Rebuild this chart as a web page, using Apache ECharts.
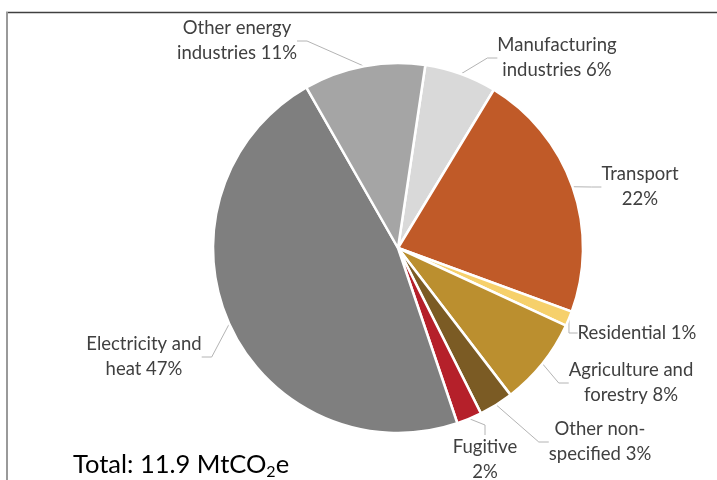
<!DOCTYPE html>
<html>
<head>
<meta charset="utf-8">
<script src="https://cdn.jsdelivr.net/npm/echarts@6/dist/echarts.min.js"></script>
<style>
html,body{margin:0;padding:0;background:#fff;}
#chart{width:717px;height:480px;}
</style>
</head>
<body>
<div id="chart"></div>
<script>
// ---- data ----
const categories = ["Manufacturing industries", "Transport", "Residential", "Agriculture and forestry", "Other non-specified", "Fugitive", "Electricity and heat", "Other energy industries"];
const values = [6.3, 21.9, 1.3, 7.7, 3.0, 2.2, 46.9, 10.6];
const labelTemplates = ["Manufacturing\nindustries {p}%", "Transport\n{p}%", "Residential {p}%", "Agriculture and\nforestry {p}%", "Other non-\nspecified {p}%", "Fugitive\n{p}%", "Electricity and\nheat {p}%", "Other energy\nindustries {p}%"];
const totalText = "Total: 11.9 MtCO{sub|2}e";

// ---- styles / layout ----
const colors = ["#d9d9d9", "#c05a28", "#f6d06b", "#bb8f2f", "#7b5b24", "#b5202a", "#7f7f7f", "#a5a5a5"];
const labelPos = [
  [557, 58], [640, 187], [637, 333], [631, 383], [600, 442], [485, 460], [144, 357], [237, 41]
];
const FONT = "Lato";

const chart = echarts.init(document.getElementById('chart'), null, {renderer: 'canvas'});
const data = categories.map((c, i) => ({
  name: c, value: values[i], itemStyle: {color: colors[i]}
}));

chart.setOption({
  animation: false,
  backgroundColor: '#fff',
  graphic: [
    {type: 'line', shape: {x1: 6, y1: 12.5, x2: 717, y2: 12.5}, style: {stroke: '#404040', lineWidth: 1.5}},
    {type: 'line', shape: {x1: 7, y1: 12, x2: 7, y2: 480}, style: {stroke: '#9a9a9a', lineWidth: 2}}
  ],
  title: {
    text: totalText,
    left: 68, top: 445,
    textStyle: {
      fontFamily: FONT, fontSize: 25.5, fontWeight: 'normal', color: '#000',
      rich: {sub: {fontFamily: FONT, fontSize: 16, verticalAlign: 'bottom', padding: [14, 0, 0, 0], color: '#000'}}
    }
  },
  series: [{
    type: 'pie',
    center: [398, 248],
    radius: [0, 185],
    startAngle: 81.5,
    clockwise: true,
    percentPrecision: 0,
    data: data,
    itemStyle: {borderColor: '#fff', borderWidth: 2.5},
    label: {
      show: true,
      position: 'outside',
      fontFamily: FONT,
      fontSize: 18.5,
      lineHeight: 25,
      color: '#404040',
      align: 'center',
      overflow: 'none',
      edgeDistance: 0,
      formatter: p => labelTemplates[p.dataIndex].replace('{p}', Math.round(p.percent))
    },
    labelLine: {show: true, length: 10, length2: 10, lineStyle: {color: '#b4b4b4', width: 1}},
    labelLayout: function (params) {
      const pos = labelPos[params.dataIndex];
      return {
        x: pos[0],
        y: pos[1],
        align: 'center',
        verticalAlign: 'middle',
        hideOverlap: false,
        moveOverlap: null
      };
    }
  }]
});
</script>
</body>
</html>
